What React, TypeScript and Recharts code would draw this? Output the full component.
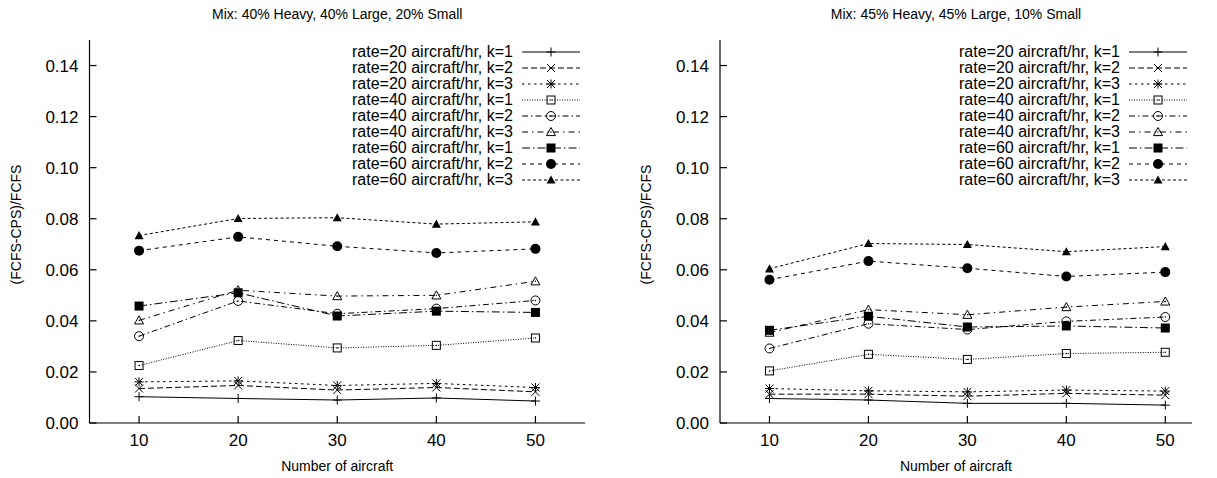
import { LineChart, Line, XAxis, YAxis, Legend } from 'recharts';

const FONT = '"Liberation Sans", Arial, Helvetica, sans-serif';

const aircraft = [10, 20, 30, 40, 50];
const yTicks = [0, 0.02, 0.04, 0.06, 0.08, 0.1, 0.12, 0.14];

const seriesLabels = [
  'rate=20 aircraft/hr, k=1',
  'rate=20 aircraft/hr, k=2',
  'rate=20 aircraft/hr, k=3',
  'rate=40 aircraft/hr, k=1',
  'rate=40 aircraft/hr, k=2',
  'rate=40 aircraft/hr, k=3',
  'rate=60 aircraft/hr, k=1',
  'rate=60 aircraft/hr, k=2',
  'rate=60 aircraft/hr, k=3',
];

// Mix: 40% Heavy, 40% Large, 20% Small
const mixA_r20k1 = [0.0103, 0.0096, 0.009, 0.0098, 0.0086];
const mixA_r20k2 = [0.0135, 0.0147, 0.0129, 0.0139, 0.0122];
const mixA_r20k3 = [0.0161, 0.0165, 0.0147, 0.0155, 0.0139];
const mixA_r40k1 = [0.0225, 0.0323, 0.0294, 0.0304, 0.0333];
const mixA_r40k2 = [0.034, 0.0478, 0.0428, 0.0448, 0.048];
const mixA_r40k3 = [0.0402, 0.052, 0.0497, 0.05, 0.0555];
const mixA_r60k1 = [0.0458, 0.051, 0.0419, 0.0438, 0.0433];
const mixA_r60k2 = [0.0675, 0.0729, 0.0692, 0.0666, 0.0682];
const mixA_r60k3 = [0.0734, 0.0801, 0.0804, 0.0779, 0.0788];

// Mix: 45% Heavy, 45% Large, 10% Small
const mixB_r20k1 = [0.0096, 0.009, 0.0077, 0.0077, 0.007];
const mixB_r20k2 = [0.0113, 0.0113, 0.0105, 0.0116, 0.0109];
const mixB_r20k3 = [0.0135, 0.0126, 0.0122, 0.0129, 0.0125];
const mixB_r40k1 = [0.0204, 0.0269, 0.0249, 0.0272, 0.0277];
const mixB_r40k2 = [0.0292, 0.0389, 0.0366, 0.0398, 0.0415];
const mixB_r40k3 = [0.0354, 0.0444, 0.0424, 0.0454, 0.0476];
const mixB_r60k1 = [0.0363, 0.0418, 0.0376, 0.038, 0.0372];
const mixB_r60k2 = [0.0561, 0.0634, 0.0606, 0.0574, 0.0591];
const mixB_r60k3 = [0.0604, 0.0703, 0.0699, 0.0671, 0.0691];

const mixA = [mixA_r20k1, mixA_r20k2, mixA_r20k3, mixA_r40k1, mixA_r40k2, mixA_r40k3, mixA_r60k1, mixA_r60k2, mixA_r60k3];
const mixB = [mixB_r20k1, mixB_r20k2, mixB_r20k3, mixB_r40k1, mixB_r40k2, mixB_r40k3, mixB_r60k1, mixB_r60k2, mixB_r60k3];

type Shape = 'plus' | 'cross' | 'star' | 'square' | 'circle' | 'triangle' | 'squareFill' | 'circleFill' | 'triangleFill';

// gnuplot-ish line types, one per series
const looks: { shape: Shape; dash?: string }[] = [
  { shape: 'plus' },
  { shape: 'cross', dash: '6 3' },
  { shape: 'star', dash: '2.5 3.5' },
  { shape: 'square', dash: '1 1.5' },
  { shape: 'circle', dash: '6 3 1.5 3' },
  { shape: 'triangle', dash: '6 4 1.5 4' },
  { shape: 'squareFill', dash: '8 3 1.5 3' },
  { shape: 'circleFill', dash: '4 4' },
  { shape: 'triangleFill', dash: '3 2.5' },
];

function Marker({ cx, cy, shape }: { cx: number; cy: number; shape: Shape }) {
  const s = 4.5;
  const ink = '#000';
  const pt = <circle cx={cx} cy={cy} r={0.7} fill={ink} />;
  const tri = `${cx},${cy - s} ${cx + s},${cy + s * 0.8} ${cx - s},${cy + s * 0.8}`;
  switch (shape) {
    case 'plus':
      return (
        <g>
          <line x1={cx - s} x2={cx + s} y1={cy} y2={cy} stroke={ink} />
          <line x1={cx} x2={cx} y1={cy - s} y2={cy + s} stroke={ink} />
        </g>
      );
    case 'cross':
      return (
        <g>
          <line x1={cx - 4} x2={cx + 4} y1={cy - 4} y2={cy + 4} stroke={ink} />
          <line x1={cx - 4} x2={cx + 4} y1={cy + 4} y2={cy - 4} stroke={ink} />
        </g>
      );
    case 'star':
      return (
        <g>
          <line x1={cx - s} x2={cx + s} y1={cy} y2={cy} stroke={ink} />
          <line x1={cx} x2={cx} y1={cy - s} y2={cy + s} stroke={ink} />
          <line x1={cx - 4} x2={cx + 4} y1={cy - 4} y2={cy + 4} stroke={ink} />
          <line x1={cx - 4} x2={cx + 4} y1={cy + 4} y2={cy - 4} stroke={ink} />
        </g>
      );
    case 'square':
      return (
        <g>
          <rect x={cx - 4} y={cy - 4} width={8} height={8} fill="none" stroke={ink} />
          {pt}
        </g>
      );
    case 'squareFill':
      return <rect x={cx - 4.5} y={cy - 4.5} width={9} height={9} fill={ink} />;
    case 'circle':
      return (
        <g>
          <circle cx={cx} cy={cy} r={4.5} fill="none" stroke={ink} />
          {pt}
        </g>
      );
    case 'circleFill':
      return <circle cx={cx} cy={cy} r={5} fill={ink} />;
    case 'triangle':
      return (
        <g>
          <polygon points={tri} fill="none" stroke={ink} />
          {pt}
        </g>
      );
    default:
      return <polygon points={tri} fill={ink} />;
  }
}

function KeyBox() {
  return (
    <div style={{ fontFamily: FONT, fontSize: 16, color: '#000' }}>
      {seriesLabels.map((label, i) => (
        <div key={label} style={{ display: 'flex', justifyContent: 'flex-end', alignItems: 'center', height: 16 }}>
          <span style={{ lineHeight: '16px', whiteSpace: 'nowrap' }}>{label}</span>
          <svg width={58} height={16} style={{ marginLeft: 9, display: 'block' }}>
            <line x1={0} x2={58} y1={8} y2={8} stroke="#000" strokeDasharray={looks[i].dash} />
            <Marker cx={29} cy={8} shape={looks[i].shape} />
          </svg>
        </div>
      ))}
    </div>
  );
}

interface PanelProps {
  title: string;
  series: number[][];
  left: number;
  width: number;
  plotLeft: number;
  plotRight: number;
  xMax: number;
}

function Panel({ title, series, left, width, plotLeft, plotRight, xMax }: PanelProps) {
  const rows = aircraft.map((x, i) => {
    const row: Record<string, number> = { x };
    series.forEach((s, k) => (row['s' + k] = s[i]));
    return row;
  });
  const axisW = 60;
  const tickStyle = { fill: '#000', fontSize: 17, fontFamily: FONT };
  const line = { stroke: '#000', strokeWidth: 1.2 };

  return (
    <div style={{ position: 'absolute', left, top: 0, width, height: 478 }}>
      <div
        style={{
          position: 'absolute',
          left: 0,
          width: plotLeft + plotRight,
          top: 5,
          textAlign: 'center',
          fontFamily: FONT,
          fontSize: 14,
          lineHeight: '18px',
          whiteSpace: 'nowrap',
        }}
      >
        {title}
      </div>
      <LineChart
        width={width}
        height={478}
        data={rows}
        margin={{ top: 40, right: width - plotRight, bottom: 0, left: plotLeft - axisW }}
      >
        <XAxis
          xAxisId="b"
          dataKey="x"
          type="number"
          domain={[5, xMax]}
          ticks={aircraft}
          interval={0}
          allowDataOverflow
          height={55}
          tickSize={-7}
          tickMargin={18}
          tick={tickStyle}
          axisLine={line}
          tickLine={line}
          label={{ value: 'Number of aircraft', position: 'insideBottom', offset: 7, fill: '#000', fontSize: 14, fontFamily: FONT }}
        />
        <XAxis
          xAxisId="t"
          orientation="top"
          dataKey="x"
          type="number"
          domain={[5, xMax]}
          ticks={aircraft}
          interval={0}
          allowDataOverflow
          height={0}
          tickSize={-7}
          tick={false}
          axisLine={line}
          tickLine={line}
        />
        <YAxis
          yAxisId="l"
          type="number"
          domain={[0, 0.15]}
          ticks={yTicks}
          interval={0}
          allowDataOverflow
          width={axisW}
          tickSize={-7}
          tickMargin={18}
          tick={tickStyle}
          tickFormatter={(v: number) => v.toFixed(2)}
          axisLine={line}
          tickLine={line}
          label={{
            value: '(FCFS-CPS)/FCFS',
            angle: -90,
            position: 'insideLeft',
            offset: -13.5,
            dy: -7,
            fill: '#000',
            fontSize: 14,
            fontFamily: FONT,
            style: { textAnchor: 'middle' },
          }}
        />
        <YAxis
          yAxisId="r"
          orientation="right"
          type="number"
          domain={[0, 0.15]}
          ticks={yTicks}
          interval={0}
          allowDataOverflow
          width={0}
          tickSize={-7}
          tick={false}
          axisLine={line}
          tickLine={line}
        />
        {series.map((_, k) => (
          <Line
            key={k}
            xAxisId="b"
            yAxisId="l"
            dataKey={'s' + k}
            type="linear"
            stroke="#000"
            strokeWidth={1}
            strokeDasharray={looks[k].dash}
            dot={(p: any) => <Marker key={`d${k}-${p.index}`} cx={p.cx} cy={p.cy} shape={looks[k].shape} />}
            isAnimationActive={false}
          />
        ))}
        <Legend
          layout="vertical"
          align="center"
          verticalAlign="middle"
          wrapperStyle={{ position: 'absolute', left: 0, top: 44, width: plotRight - 5, height: 'auto' }}
          content={() => <KeyBox />}
        />
      </LineChart>
    </div>
  );
}

export default function App() {
  return (
    <div style={{ position: 'absolute', left: 0, top: 0, width: 1217, height: 478, background: '#fff' }}>
      <Panel
        title="Mix: 40% Heavy, 40% Large, 20% Small"
        series={mixA}
        left={0}
        width={600}
        plotLeft={89.5}
        plotRight={585}
        xMax={55}
      />
      <Panel
        title="Mix: 45% Heavy, 45% Large, 10% Small"
        series={mixB}
        left={620}
        width={597}
        plotLeft={100}
        plotRight={572}
        xMax={52.7}
      />
    </div>
  );
}
